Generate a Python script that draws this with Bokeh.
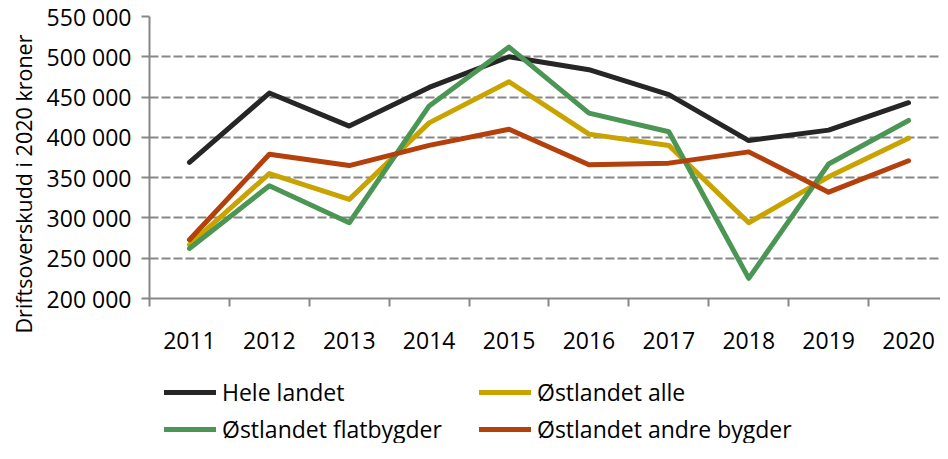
from bokeh.plotting import figure
from bokeh.models import FixedTicker, Range1d, Legend, LegendItem, Title
from bokeh.layouts import column, row
from bokeh.embed import file_html
from bokeh.resources import INLINE

years = [2011, 2012, 2013, 2014, 2015, 2016, 2017, 2018, 2019, 2020]
hele_landet = [369000, 455000, 414000, 462000, 500000, 484000, 453000, 396000, 409000, 443000]
ostlandet_alle = [267000, 355000, 323000, 418000, 469000, 404000, 390000, 294000, 351000, 399000]
ostlandet_flatbygder = [262000, 340000, 294000, 439000, 512000, 430000, 407000, 225000, 367000, 421000]
ostlandet_andre = [273000, 379000, 365000, 390000, 410000, 366000, 368000, 382000, 332000, 371000]
series_names = ["Hele landet", "Østlandet alle", "Østlandet flatbygder", "Østlandet andre bygder"]
y_ticks = [200000, 250000, 300000, 350000, 400000, 450000, 500000, 550000]
y_title = "Driftsoverskudd i  2020 kroner"

colors = ["#262626", "#C9A300", "#4B9654", "#B4400B"]
FONT = "Open Sans"
GRAY = "#878787"

TOP_H = 370

# ---- main chart ----
p = figure(width=940, height=TOP_H, output_backend="svg", toolbar_location=None,
           x_range=Range1d(years[0] - 0.5, years[-1] + 0.4),
           y_range=Range1d(y_ticks[0], y_ticks[-1]),
           min_border_left=148, min_border_top=16, min_border_right=0,
           min_border_bottom=72)
p.outline_line_color = None

p.xaxis.ticker = FixedTicker(ticks=years, minor_ticks=[y - 0.5 for y in years] + [years[-1] + 0.5])
p.xaxis.major_tick_out = 0
p.xaxis.major_tick_in = 0
p.xaxis.minor_tick_out = 8
p.xaxis.minor_tick_in = 0
p.xaxis.minor_tick_line_color = GRAY
p.xaxis.minor_tick_line_width = 2
p.xaxis.axis_line_color = GRAY
p.xaxis.axis_line_width = 2
p.xaxis.major_label_text_font = FONT
p.xaxis.major_label_text_font_size = "23px"
p.xaxis.major_label_text_color = "black"
p.xaxis.major_label_standoff = 25

p.yaxis.ticker = FixedTicker(ticks=y_ticks)
p.yaxis.major_label_overrides = {v: f"{v:,}".replace(",", " ") for v in y_ticks}
p.yaxis.major_tick_out = 8
p.yaxis.major_tick_in = 0
p.yaxis.minor_tick_line_color = None
p.yaxis.major_tick_line_color = GRAY
p.yaxis.major_tick_line_width = 2
p.yaxis.axis_line_color = GRAY
p.yaxis.axis_line_width = 2
p.yaxis.major_label_text_font = FONT
p.yaxis.major_label_text_font_size = "23px"
p.yaxis.major_label_text_color = "black"
p.yaxis.major_label_standoff = 10

# y-axis title as a left-side title, starting a little below the frame bottom
p.add_layout(Title(text=y_title, align="left", offset=-35, standoff=12,
                   text_font=FONT, text_font_size="21.5px", text_font_style="normal",
                   text_color="black"), "left")

p.xgrid.grid_line_color = None
p.ygrid.grid_line_color = GRAY
p.ygrid.grid_line_width = 2
p.ygrid.grid_line_dash = "9 3"

all_series = [hele_landet, ostlandet_alle, ostlandet_flatbygder, ostlandet_andre]
for vals, c in zip(all_series, colors):
    p.line(years, vals, line_color=c, line_width=5, line_cap="round", line_join="round")

# ---- legend panel ----
pl = figure(frame_width=940, frame_height=443 - TOP_H, output_backend="svg", toolbar_location=None,
            x_axis_type=None, y_axis_type=None, min_border=0,
            x_range=Range1d(0, 1), y_range=Range1d(0, 1))
pl.outline_line_color = None
pl.grid.visible = False
items = []
for n, c in zip(series_names, colors):
    # legend-only sample lines, kept outside the visible range
    r = pl.line(x=[-2, -1], y=[-2, -1], line_color=c, line_width=5, line_cap="round")
    items.append(LegendItem(label=n, renderers=[r]))
legend = Legend(items=items, ncols=2, orientation="horizontal", location=(164, -2),
                label_text_font=FONT, label_text_font_size="23px", label_text_color="black",
                glyph_width=52, glyph_height=26, label_height=26, label_standoff=6,
                label_width=252, spacing=5, padding=0, margin=0, border_line_color=None,
                background_fill_alpha=0)
pl.add_layout(legend, "center")

layout = column(row(p), pl)
open("out.html", "w").write(file_html(layout, INLINE))
